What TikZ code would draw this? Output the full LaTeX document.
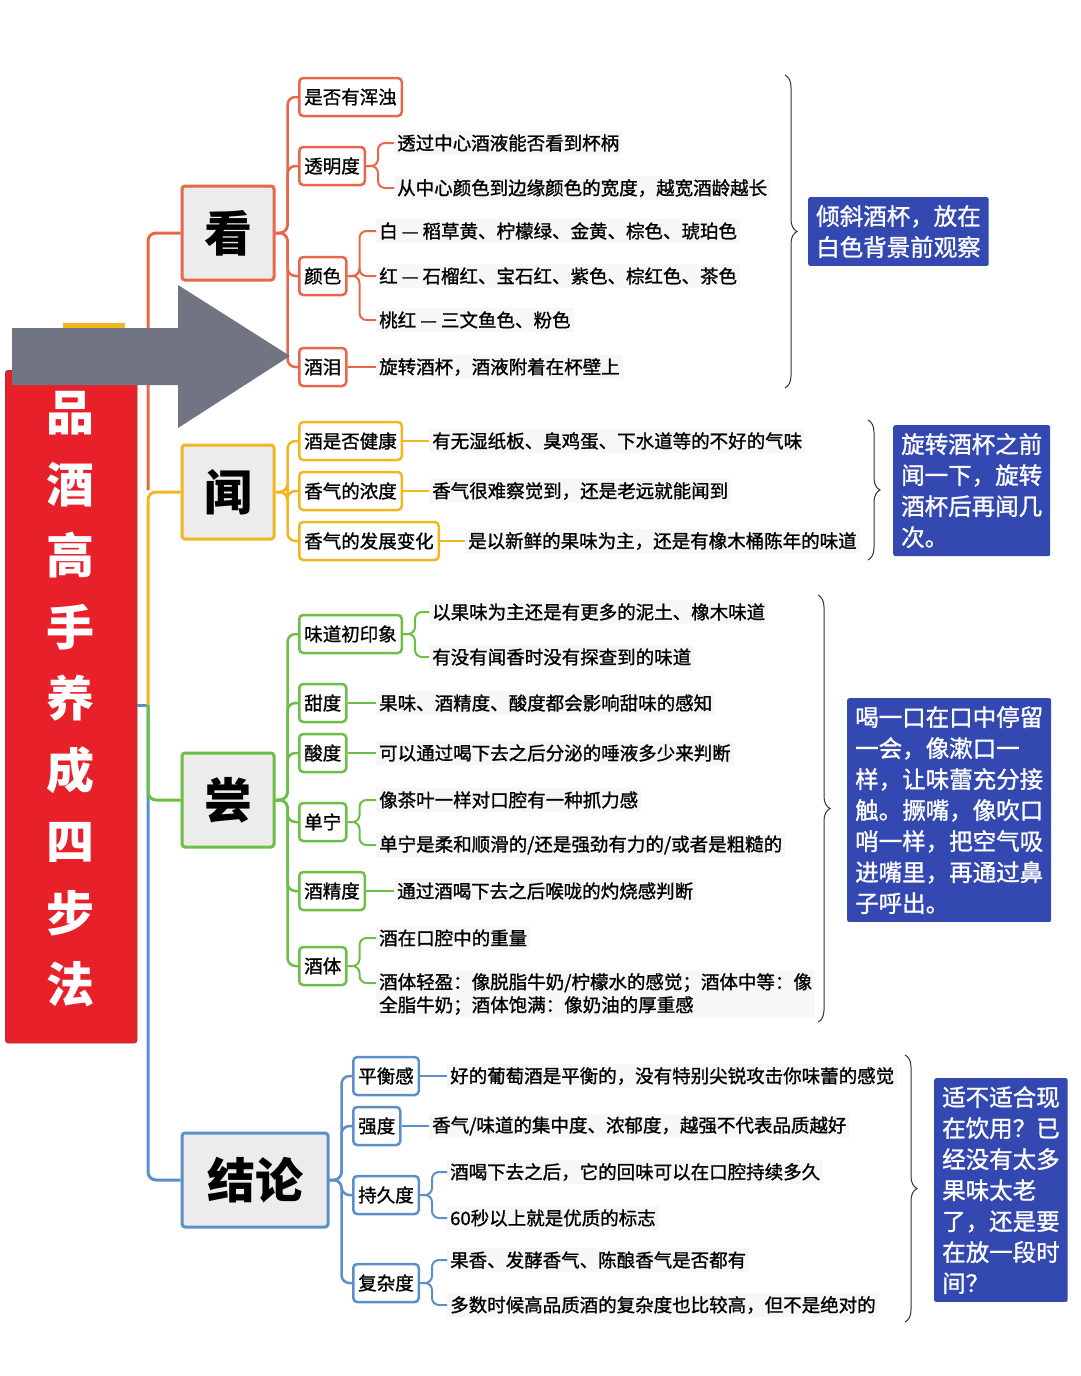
\documentclass[tikz,border=0pt]{standalone}
\usepackage{fontspec}
\setmainfont{Noto Sans CJK SC}
\newfontfamily\mf{Noto Sans CJK SC}[FakeBold=1.2]
\usetikzlibrary{decorations.pathreplacing}
\definecolor{rd}{HTML}{E8202A}
\definecolor{og}{HTML}{E9664A}
\definecolor{yl}{HTML}{F2B61E}
\definecolor{gn}{HTML}{6DBE45}
\definecolor{bu}{HTML}{5B8FC8}
\definecolor{nb}{HTML}{3348B0}
\definecolor{ag}{HTML}{717482}
\begin{document}
\begin{tikzpicture}[x=1pt,y=-1pt,
  main/.style={draw=#1,line width=3pt,fill=gray!15,rounded corners=3pt,minimum height=94pt,font=\fontsize{48}{50}\selectfont\bfseries},
  item/.style={draw=#1,line width=2.5pt,fill=white,rounded corners=4pt,minimum height=38pt,inner xsep=5pt,font=\fontsize{18.5}{20}\mf},
  txt/.style={anchor=west,fill=gray!6,inner sep=3pt,font=\fontsize{18.5}{20}\mf},
  note/.style={anchor=north west,fill=nb,text=white,rounded corners=2pt,inner sep=8pt,align=left,font=\fontsize{23.5}{31}\mf},
  br/.style={decorate,decoration={brace,amplitude=12pt},draw=black!80,line width=1pt}]
\useasboundingbox (0,0) rectangle (1080,1376);
% title
\fill[yl] (63,323) rectangle (125,331);
\node[draw=black!70,fill=rd,rounded corners=3pt,minimum width=132pt,minimum height=673pt,anchor=north west,inner sep=0pt] (title) at (5,370) {};
\node[text=white,align=center,font=\fontsize{48}{71.5}\selectfont\bfseries,anchor=north] (ttxt) at (70,388) {品\\酒\\高\\手\\养\\成\\四\\步\\法};
\coordinate (root) at (148,705);
% main nodes
\node[main=og,minimum width=92pt] (kan) at (228,233) {看};
\node[main=yl,minimum width=92pt] (wen) at (228,492) {闻};
\node[main=gn,minimum width=92pt] (chang) at (228,800) {尝};
\node[main=bu,minimum width=146pt] (jl) at (255,1180) {结论};
\draw[bu,line width=3pt] (137,705) -- (root);
\draw[bu,line width=3pt,rounded corners=8pt] (root) |- (jl.west);
\draw[gn,line width=3pt,rounded corners=8pt] (root) |- (chang.west);
\draw[og,line width=3pt,rounded corners=8pt] (148,490) |- (kan.west);
\draw[yl,line width=3pt,rounded corners=8pt] (root) |- (wen.west);
% kan
\node[item=og,anchor=west] (k1) at (298,97) {是否有浑浊};
\node[item=og,anchor=west] (k2) at (298,166) {透明度};
\node[item=og,anchor=west] (k3) at (298,276) {颜色};
\node[item=og,anchor=west] (k4) at (298,367) {酒泪};
\foreach \n in {k1,k2,k3,k4} \draw[og,line width=2.5pt,rounded corners=8pt] (kan.east) -- ++(12,0) |- (\n.west);
\node[txt] (k21) at (394,143) {透过中心酒液能否看到杯柄};
\node[txt] (k22) at (394,188) {从中心颜色到边缘颜色的宽度，越宽酒龄越长};
\foreach \n in {k21,k22} \draw[og,line width=2pt,rounded corners=7pt] (k2.east) -- ++(12,0) |- (\n.west);
\node[txt] (k31) at (376,231) {白 — 稻草黄、柠檬绿、金黄、棕色、琥珀色};
\node[txt] (k32) at (376,276) {红 — 石榴红、宝石红、紫色、棕红色、茶色};
\node[txt] (k33) at (376,320) {桃红 — 三文鱼色、粉色};
\foreach \n in {k31,k32,k33} \draw[og,line width=2pt,rounded corners=7pt] (k3.east) -- ++(12,0) |- (\n.west);
\node[txt] (k41) at (376,367) {旋转酒杯，酒液附着在杯壁上};
\draw[og,line width=2pt] (k4) -- (k41);
\draw[br] (785,75) -- (785,388);
\node[note] (nk) at (808,197) {倾斜酒杯，放在\\白色背景前观察};
% wen
\node[item=yl,anchor=west] (w1) at (298,441) {酒是否健康};
\node[item=yl,anchor=west] (w2) at (298,491) {香气的浓度};
\node[item=yl,anchor=west] (w3) at (298,541) {香气的发展变化};
\foreach \n in {w1,w2,w3} \draw[yl,line width=2.5pt,rounded corners=8pt] (wen.east) -- ++(12,0) |- (\n.west);
\node[txt] (w11) at (429,441) {有无湿纸板、臭鸡蛋、下水道等的不好的气味};
\node[txt] (w21) at (429,491) {香气很难察觉到，还是老远就能闻到};
\node[txt] (w31) at (465,541) {是以新鲜的果味为主，还是有橡木桶陈年的味道};
\draw[yl,line width=2pt] (w1) -- (w11);
\draw[yl,line width=2pt] (w2) -- (w21);
\draw[yl,line width=2pt] (w3) -- (w31);
\draw[br] (868,420) -- (868,560);
\node[note] (nw) at (893,425) {旋转酒杯之前\\闻一下，旋转\\酒杯后再闻几\\次。};
% chang
\node[item=gn,anchor=west] (c1) at (298,634) {味道初印象};
\node[item=gn,anchor=west] (c2) at (298,703) {甜度};
\node[item=gn,anchor=west] (c3) at (298,753) {酸度};
\node[item=gn,anchor=west] (c4) at (298,822) {单宁};
\node[item=gn,anchor=west] (c5) at (298,891) {酒精度};
\node[item=gn,anchor=west] (c6) at (298,966) {酒体};
\foreach \n in {c1,c2,c3,c4,c5,c6} \draw[gn,line width=2.5pt,rounded corners=8pt] (chang.east) -- ++(12,0) |- (\n.west);
\node[txt] (c11) at (429,612) {以果味为主还是有更多的泥土、橡木味道};
\node[txt] (c12) at (429,657) {有没有闻香时没有探查到的味道};
\foreach \n in {c11,c12} \draw[gn,line width=2pt,rounded corners=7pt] (c1.east) -- ++(12,0) |- (\n.west);
\node[txt] (c21) at (376,703) {果味、酒精度、酸度都会影响甜味的感知};
\node[txt] (c31) at (376,753) {可以通过喝下去之后分泌的唾液多少来判断};
\draw[gn,line width=2pt] (c2) -- (c21);
\draw[gn,line width=2pt] (c3) -- (c31);
\node[txt] (c41) at (376,800) {像茶叶一样对口腔有一种抓力感};
\node[txt] (c42) at (376,845) {单宁是柔和顺滑的/还是强劲有力的/或者是粗糙的};
\foreach \n in {c41,c42} \draw[gn,line width=2pt,rounded corners=7pt] (c4.east) -- ++(12,0) |- (\n.west);
\node[txt] (c51) at (394,891) {通过酒喝下去之后喉咙的灼烧感判断};
\draw[gn,line width=2pt] (c5) -- (c51);
\node[txt] (c61) at (376,938) {酒在口腔中的重量};
\node[txt,align=left,font=\fontsize{18.5}{23}\mf] (c62) at (376,994) {酒体轻盈：像脱脂牛奶/柠檬水的感觉；酒体中等：像\\全脂牛奶；酒体饱满：像奶油的厚重感};
\draw[gn,line width=2pt,rounded corners=7pt] (c6.east) -- ++(12,0) |- (c61.west);
\draw[gn,line width=2pt,rounded corners=7pt] (c6.east) -- ++(12,0) |- (c62.west |- 983,983);
\draw[br] (818,595) -- (818,1022);
\node[note] (nc) at (847,698) {喝一口在口中停留\\一会，像漱口一\\样，让味蕾充分接\\触。撅嘴，像吹口\\哨一样，把空气吸\\进嘴里，再通过鼻\\子呼出。};
% jielun
\node[item=bu,anchor=west] (j1) at (352,1076) {平衡感};
\node[item=bu,anchor=west] (j2) at (352,1126) {强度};
\node[item=bu,anchor=west] (j3) at (352,1195) {持久度};
\node[item=bu,anchor=west] (j4) at (352,1283) {复杂度};
\foreach \n in {j1,j2,j3,j4} \draw[bu,line width=2.5pt,rounded corners=8pt] (jl.east) -- ++(12,0) |- (\n.west);
\node[txt] (j11) at (447,1076) {好的葡萄酒是平衡的，没有特别尖锐攻击你味蕾的感觉};
\node[txt] (j21) at (429,1126) {香气/味道的集中度、浓郁度，越强不代表品质越好};
\draw[bu,line width=2pt] (j1) -- (j11);
\draw[bu,line width=2pt] (j2) -- (j21);
\node[txt] (j31) at (447,1172) {酒喝下去之后，它的回味可以在口腔持续多久};
\node[txt] (j32) at (447,1218) {60秒以上就是优质的标志};
\foreach \n in {j31,j32} \draw[bu,line width=2pt,rounded corners=7pt] (j3.east) -- ++(12,0) |- (\n.west);
\node[txt] (j41) at (447,1260) {果香、发酵香气、陈酿香气是否都有};
\node[txt] (j42) at (447,1305) {多数时候高品质酒的复杂度也比较高，但不是绝对的};
\foreach \n in {j41,j42} \draw[bu,line width=2pt,rounded corners=7pt] (j4.east) -- ++(12,0) |- (\n.west);
\draw[br] (905,1055) -- (905,1322);
\node[note] (nj) at (934,1078) {适不适合现\\在饮用？已\\经没有太多\\果味太老\\了，还是要\\在放一段时\\间？};
% arrow
\fill[ag] (12,328) -- (178,328) -- (178,285) -- (290,356) -- (178,428) -- (178,385) -- (12,385) -- cycle;
\end{tikzpicture}
\end{document}
